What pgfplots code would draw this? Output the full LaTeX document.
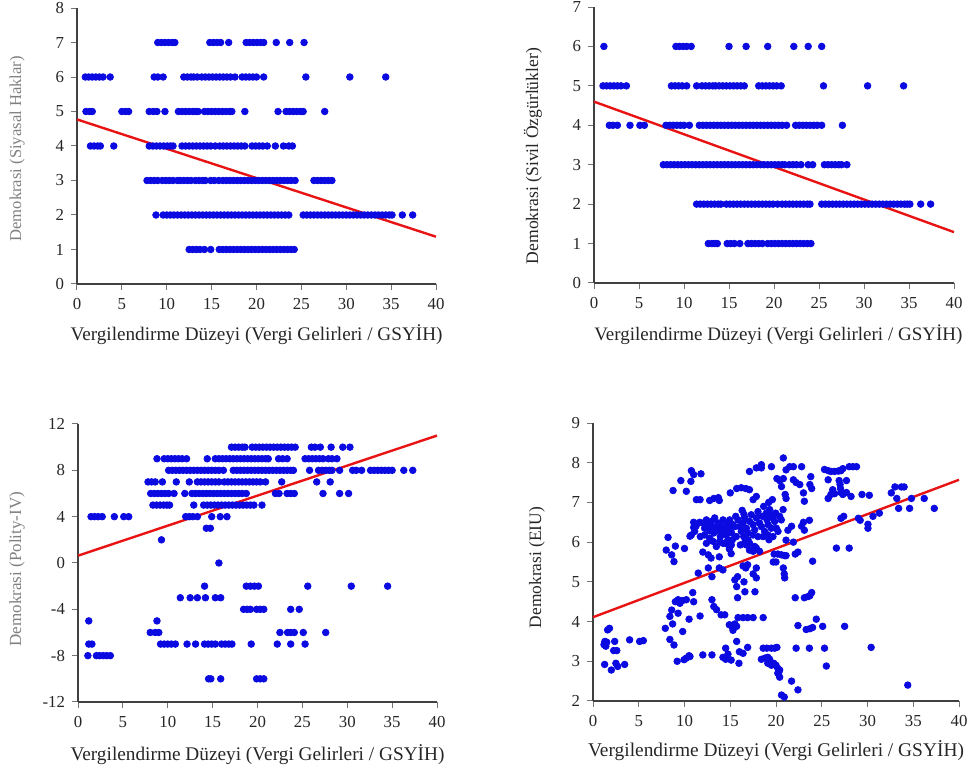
\documentclass[border=0pt]{standalone}
\usepackage{fontspec}
\setmainfont{Liberation Serif}
\usepackage{pgfplots}
\pgfplotsset{compat=1.18}

\definecolor{dotblue}{RGB}{10,10,225}
\definecolor{fitred}{RGB}{232,20,20}

\pgfplotsset{
  panel/.style={
    scale only axis,
    axis lines*=left,
    tick align=outside,
    xmin=0, xmax=40, xtick={0,5,...,40},
    axis line style={black!75, line width=0.9pt},
    major tick style={black!55, line width=0.5pt},
    major tick length=3pt,
    tick label style={font=\fontsize{8.4}{9}\selectfont, text=black!85},
    xticklabel style={yshift=-0.6pt},
    /pgf/number format/assume math mode=true,
    clip=false,
    every axis y label/.style={rotate=90, anchor=center},
    every axis x label/.style={anchor=base, text=black!85},
  },
  dots/.style={only marks, mark=*, mark size=1.65pt, color=dotblue},
  fit/.style={fitred, line width=1.2pt, no marks},
}

\begin{document}
\begin{tikzpicture}
\path[use as bounding box] (0,0) rectangle (487pt,384.5pt);

% --- top left: Siyasal Haklar
\begin{axis}[panel, at={(38.5pt,242.5pt)}, anchor=south west,
  width=179.5pt, height=138pt, ymin=0, ymax=8, ytick={0,...,8},
  ylabel={Demokrasi (Siyasal Haklar)},
  ylabel style={at={(axis description cs:-0.167,0.49)}, font=\fontsize{8.3}{9}\selectfont, text=black!50},
  xlabel={Vergilendirme Düzeyi (Vergi Gelirleri / GSYİH)},
  xlabel style={at={(axis description cs:0.5,-0.203)}, font=\fontsize{9.6}{10}\selectfont}]
\addplot[dots] coordinates {
(9.0,7)(9.4,7)(9.8,7)(10.2,7)(10.6,7)(10.9,7)(14.8,7)(15.2,7)(15.6,7)(16.0,7)(16.9,7)(18.85,7)(19.25,7)(19.65,7)(20.05,7)(20.45,7)(20.8,7)(22.2,7)(23.7,7)(25.3,7)
(0.93,6)(1.3,6)(1.7,6)(2.1,6)(2.5,6)(2.9,6)(3.7,6)(8.6,6)(9.0,6)(9.6,6)(11.9,6)(12.3,6)(12.7,6)(13.0,6)(13.4,6)(13.9,6)(14.3,6)(14.7,6)(15.1,6)(15.5,6)(15.9,6)(16.3,6)(16.7,6)(17.1,6)(17.6,6)(18.4,6)(18.8,6)(19.2,6)(19.6,6)(20.0,6)(20.8,6)(25.5,6)(30.4,6)(34.4,6)
(1.0,5)(1.4,5)(1.7,5)(5.0,5)(5.4,5)(5.75,5)(8.05,5)(8.5,5)(8.9,5)(9.8,5)(11.3,5)(11.7,5)(12.1,5)(12.5,5)(12.9,5)(13.2,5)(13.5,5)(14.2,5)(14.6,5)(15.0,5)(15.4,5)(15.8,5)(16.2,5)(16.6,5)(17.0,5)(17.25,5)(18.7,5)(22.4,5)(23.3,5)(23.7,5)(24.1,5)(24.5,5)(24.9,5)(25.2,5)(27.6,5)
(1.5,4)(1.9,4)(2.3,4)(2.6,4)(4.1,4)(8.05,4)(8.45,4)(8.85,4)(9.25,4)(9.65,4)(10.05,4)(10.4,4)(10.7,4)(11.7,4)(12.1,4)(12.5,4)(12.9,4)(13.3,4)(13.7,4)(14.1,4)(14.5,4)(14.9,4)(15.4,4)(15.9,4)(16.3,4)(16.7,4)(17.1,4)(17.5,4)(17.9,4)(18.3,4)(18.7,4)(19.5,4)(19.9,4)(20.3,4)(20.7,4)(21.2,4)(22.1,4)(23.0,4)(23.6,4)(24.0,4)
(7.8,3)(8.2,3)(8.6,3)(9.0,3)(9.5,3)(9.9,3)(10.3,3)(10.7,3)(11.2,3)(11.5,3)(11.9,3)(12.3,3)(12.7,3)(13.2,3)(13.6,3)(14.0,3)(14.3,3)(14.9,3)(15.3,3)(15.8,3)(16.25,3)(16.65,3)(17.05,3)(17.45,3)(17.85,3)(18.25,3)(18.65,3)(19.05,3)(19.45,3)(19.85,3)(20.25,3)(20.65,3)(21.05,3)(21.45,3)(21.85,3)(22.25,3)(22.65,3)(23.05,3)(23.45,3)(23.85,3)(24.3,3)(26.4,3)(26.8,3)(27.2,3)(27.6,3)(28.0,3)(28.4,3)
(8.8,2)(9.6,2)(10.0,2)(10.4,2)(10.8,2)(11.2,2)(11.6,2)(12.0,2)(12.4,2)(12.8,2)(13.2,2)(13.6,2)(14.0,2)(14.4,2)(14.8,2)(15.2,2)(15.6,2)(16.0,2)(16.4,2)(16.8,2)(17.2,2)(17.6,2)(18.0,2)(18.4,2)(18.8,2)(19.2,2)(19.6,2)(20.0,2)(20.4,2)(20.8,2)(21.2,2)(21.6,2)(22.0,2)(22.4,2)(22.8,2)(23.2,2)(23.6,2)
(25.2,2)(25.6,2)(26.0,2)(26.4,2)(26.8,2)(27.2,2)(27.6,2)(28.0,2)(28.4,2)(28.8,2)(29.2,2)(29.6,2)(30.0,2)(30.4,2)(30.8,2)(31.2,2)(31.6,2)(32.0,2)(32.4,2)(32.8,2)(33.2,2)(33.6,2)(34.0,2)(34.4,2)(34.8,2)(35.1,2)(36.25,2)(37.4,2)
(12.5,1)(12.9,1)(13.3,1)(13.7,1)(14.2,1)(14.9,1)(15.85,1)(16.25,1)(16.65,1)(17.05,1)(17.45,1)(17.85,1)(18.25,1)(18.65,1)(19.05,1)(19.45,1)(19.85,1)(20.25,1)(20.65,1)(21.05,1)(21.45,1)(21.85,1)(22.25,1)(22.65,1)(23.05,1)(23.45,1)(23.85,1)(24.2,1)
};
\addplot[fit] coordinates {(0,4.77) (40,1.37)};
\end{axis}

% --- top right: Sivil Ozgurlukler
\begin{axis}[panel, at={(297pt,243pt)}, anchor=south west,
  width=180pt, height=138pt, ymin=0, ymax=7, ytick={0,...,7},
  ylabel={Demokrasi (Sivil Özgürlükler)},
  ylabel style={at={(axis description cs:-0.17,0.46)}, font=\fontsize{8.8}{10}\selectfont, text=black!85},
  xlabel={Vergilendirme Düzeyi (Vergi Gelirleri / GSYİH)},
  xlabel style={at={(axis description cs:0.512,-0.207)}, font=\fontsize{9.5}{10}\selectfont}]
\addplot[dots] coordinates {
(1.1,6)(9.1,6)(9.5,6)(9.9,6)(10.3,6)(10.8,6)(15.0,6)(16.9,6)(19.3,6)(22.2,6)(23.8,6)(25.3,6)
(1.0,5)(1.4,5)(1.8,5)(2.2,5)(2.6,5)(3.0,5)(3.6,5)(8.6,5)(9.0,5)(9.4,5)(9.8,5)(10.3,5)(11.4,5)(12.0,5)(12.4,5)(12.8,5)(13.2,5)(13.5,5)(13.9,5)(14.3,5)(14.7,5)(15.1,5)(15.5,5)(15.9,5)(16.3,5)(16.7,5)(18.3,5)(18.7,5)(19.1,5)(19.5,5)(19.9,5)(20.3,5)(20.8,5)(25.5,5)(30.4,5)(34.4,5)
(1.7,4)(2.1,4)(2.6,4)(4.0,4)(5.1,4)(5.6,4)(8.0,4)(8.4,4)(8.8,4)(9.2,4)(9.6,4)(10.0,4)(10.6,4)(11.7,4)(12.1,4)(12.5,4)(12.9,4)(13.3,4)(13.7,4)(14.1,4)(14.5,4)(14.9,4)(15.3,4)(15.7,4)(16.1,4)(16.5,4)(16.9,4)(17.3,4)(17.7,4)(18.1,4)(18.5,4)(18.9,4)(19.3,4)(19.7,4)(20.1,4)(20.5,4)(20.9,4)(21.4,4)(22.4,4)(22.8,4)(23.2,4)(23.6,4)(24.0,4)(24.4,4)(24.8,4)(25.3,4)(27.6,4)
(7.7,3)(8.1,3)(8.5,3)(8.9,3)(9.3,3)(9.7,3)(10.1,3)(10.5,3)(10.9,3)(11.3,3)(11.7,3)(12.1,3)(12.5,3)(12.9,3)(13.3,3)(13.7,3)(14.1,3)(14.5,3)(14.9,3)(15.3,3)(15.7,3)(16.1,3)(16.5,3)(16.9,3)(17.3,3)(17.7,3)(18.1,3)(18.5,3)(18.9,3)(19.3,3)(19.7,3)(20.1,3)(20.5,3)(20.9,3)(21.2,3)(21.7,3)(22.1,3)(22.5,3)(23.0,3)(23.8,3)(24.3,3)(25.6,3)(26.0,3)(26.4,3)(26.8,3)(27.2,3)(27.5,3)(28.1,3)
(11.4,2)(11.8,2)(12.2,2)(12.6,2)(13.0,2)(13.4,2)(13.8,2)(14.1,2)(14.7,2)(15.1,2)(15.5,2)(15.9,2)(16.3,2)(16.7,2)(17.1,2)(17.5,2)(17.9,2)(18.3,2)(18.7,2)(19.1,2)(19.5,2)(19.9,2)(20.4,2)(20.9,2)(21.3,2)(21.7,2)(22.1,2)(22.5,2)(22.9,2)(23.3,2)(23.7,2)(24.0,2)
(25.3,2)(25.7,2)(26.1,2)(26.5,2)(26.9,2)(27.3,2)(27.7,2)(28.1,2)(28.5,2)(28.9,2)(29.3,2)(29.7,2)(30.1,2)(30.5,2)(30.9,2)(31.3,2)(31.7,2)(32.1,2)(32.5,2)(32.9,2)(33.3,2)(33.7,2)(34.1,2)(34.5,2)(34.8,2)(35.1,2)(36.3,2)(37.4,2)
(12.7,1)(13.1,1)(13.4,1)(13.7,1)(14.8,1)(15.2,1)(15.6,1)(16.2,1)(17.1,1)(17.5,1)(17.9,1)(18.3,1)(18.7,1)(19.3,1)(19.7,1)(20.1,1)(20.5,1)(20.9,1)(21.3,1)(21.7,1)(22.1,1)(22.5,1)(22.9,1)(23.3,1)(23.7,1)(24.1,1)
};
\addplot[fit] coordinates {(0,4.60) (40,1.29)};
\end{axis}

% --- bottom left: Polity-IV
\begin{axis}[panel, at={(39pt,33.5pt)}, anchor=south west,
  width=179.5pt, height=139pt, ymin=-12, ymax=12, ytick={-12,-8,...,12},
  ylabel={Demokrasi (Polity-IV)},
  ylabel style={at={(axis description cs:-0.17,0.478)}, font=\fontsize{8.5}{9}\selectfont, text=black!50},
  xlabel={Vergilendirme Düzeyi (Vergi Gelirleri / GSYİH)},
  xlabel style={at={(axis description cs:0.5,-0.209)}, font=\fontsize{9.65}{10}\selectfont}]
\addplot[dots] coordinates {
(17.1,10)(17.5,10)(17.9,10)(18.3,10)(18.6,10)(19.4,10)(19.8,10)(20.2,10)(20.6,10)(21.0,10)(21.4,10)(21.8,10)(22.2,10)(22.6,10)(23.0,10)(23.4,10)(23.8,10)(24.2,10)(26.0,10)(26.4,10)(27.0,10)(28.2,10)(29.5,10)(30.3,10)
(8.8,9)(9.6,9)(10.0,9)(10.4,9)(10.8,9)(11.2,9)(11.6,9)(12.1,9)(14.4,9)(15.3,9)(15.7,9)(16.1,9)(16.5,9)(16.9,9)(17.3,9)(17.7,9)(18.1,9)(18.5,9)(18.9,9)(19.3,9)(19.7,9)(20.1,9)(20.5,9)(20.9,9)(21.2,9)(22.35,9)(22.8,9)(23.3,9)(25.3,9)(25.7,9)(26.1,9)(26.5,9)(26.9,9)(27.3,9)(27.9,9)(28.3,9)(28.85,9)
(10.1,8)(10.5,8)(10.9,8)(11.3,8)(11.7,8)(12.1,8)(12.5,8)(12.9,8)(13.3,8)(13.7,8)(14.1,8)(14.5,8)(14.9,8)(15.3,8)(15.7,8)(16.2,8)(17.3,8)(17.7,8)(18.1,8)(18.5,8)(18.9,8)(19.3,8)(19.7,8)(20.1,8)(20.5,8)(20.9,8)(21.3,8)(21.7,8)(22.1,8)(22.5,8)(22.9,8)(23.3,8)(23.7,8)(24.0,8)(25.8,8)(26.8,8)(27.2,8)(27.6,8)(28.0,8)(28.3,8)(29.15,8)(30.6,8)(31.0,8)(31.6,8)(32.6,8)(33.0,8)(33.4,8)(33.8,8)(34.2,8)(34.6,8)(35.0,8)(36.3,8)(37.3,8)
(7.8,7)(8.2,7)(8.6,7)(9.4,7)(10.95,7)(12.4,7)(13.3,7)(13.7,7)(14.1,7)(14.5,7)(14.9,7)(15.3,7)(15.7,7)(16.3,7)(16.7,7)(17.1,7)(17.5,7)(17.9,7)(18.3,7)(18.7,7)(19.1,7)(19.5,7)(19.9,7)(20.3,7)(20.9,7)(22.7,7)(26.6,7)(28.1,7)
(8.1,6)(8.5,6)(8.9,6)(9.3,6)(9.7,6)(10.1,6)(10.7,6)(11.9,6)(12.7,6)(13.1,6)(13.5,6)(13.9,6)(14.3,6)(14.7,6)(15.1,6)(15.5,6)(15.9,6)(16.3,6)(16.7,6)(17.1,6)(17.5,6)(17.9,6)(18.3,6)(18.75,6)(22.0,6)(22.4,6)(23.3,6)(23.7,6)(24.1,6)(27.3,6)(29.15,6)(30.15,6)
(8.35,5)(8.75,5)(9.15,5)(9.55,5)(9.9,5)(10.2,5)(12.9,5)(14.0,5)(14.4,5)(14.8,5)(15.2,5)(15.6,5)(16.0,5)(16.4,5)(16.8,5)(17.2,5)(17.6,5)(18.0,5)(18.4,5)(18.8,5)(19.2,5)(19.6,5)(20.5,5)
(1.45,4)(1.85,4)(2.25,4)(2.7,4)(4.05,4)(5.1,4)(5.65,4)(12.0,4)(12.4,4)(12.8,4)(13.3,4)(14.9,4)(15.85,4)(16.6,4)
(14.3,3)(14.75,3)(9.3,2)(15.7,0)
(14.1,-2)(18.75,-2)(19.2,-2)(19.65,-2)(20.1,-2)(25.6,-2)(30.45,-2)(34.5,-2)
(11.4,-3)(12.5,-3)(13.3,-3)(14.2,-3)(15.3,-3)(15.9,-3)
(18.45,-4)(18.85,-4)(19.2,-4)(19.9,-4)(20.3,-4)(20.7,-4)(23.7,-4)(24.65,-4)
(1.2,-5)(8.8,-5)
(8.05,-6)(8.6,-6)(9.0,-6)(22.5,-6)(23.35,-6)(23.7,-6)(24.1,-6)(25.1,-6)(27.6,-6)
(1.2,-7)(1.55,-7)(9.2,-7)(9.6,-7)(10.0,-7)(10.4,-7)(10.85,-7)(12.15,-7)(13.1,-7)(14.1,-7)(14.5,-7)(14.9,-7)(15.3,-7)(16.0,-7)(16.4,-7)(16.8,-7)(17.15,-7)(19.3,-7)(22.2,-7)(23.7,-7)(25.3,-7)
(1.1,-8)(2.05,-8)(2.4,-8)(2.8,-8)(3.2,-8)(3.6,-8)
(14.55,-10)(14.8,-10)(15.9,-10)(19.9,-10)(20.3,-10)(20.7,-10)
};
\addplot[fit] coordinates {(0,0.63) (40,11.0)};
\end{axis}

% --- bottom right: EIU
\begin{axis}[panel, at={(296.5pt,34pt)}, anchor=south west,
  width=183pt, height=139pt, ymin=2, ymax=9, ytick={2,...,9},
  ylabel={Demokrasi (EIU)},
  ylabel style={at={(axis description cs:-0.153,0.48)}, font=\fontsize{8.7}{10}\selectfont, text=black!85},
  xlabel={Vergilendirme Düzeyi (Vergi Gelirleri / GSYİH)},
  xlabel style={at={(axis description cs:0.5,-0.198)}, font=\fontsize{9.7}{10}\selectfont}]
\addplot[dots] coordinates {
(1.27,2.92)(1.2,3.42)(1.3,3.50)(1.4,3.38)(1.5,3.48)(1.35,3.45)(1.6,3.79)(1.8,3.83)(2.0,2.78)(2.37,3.50)(2.26,3.27)(2.6,3.27)(2.5,2.95)(2.7,2.87)(3.46,2.92)(4.0,3.54)(5.1,3.50)(5.5,3.52)
(7.9,3.83)(8.4,4.13)(8.6,4.29)(8.4,3.55)(8.85,3.41)(8.7,3.94)(9.2,3.00)(9.0,4.50)(9.3,4.55)(9.5,4.46)(9.8,4.53)(9.3,4.21)(9.8,3.75)(9.95,3.04)(10.2,3.08)(10.5,3.14)(10.6,3.12)(10.2,4.55)(10.5,4.06)(10.9,4.73)(11.0,4.50)
(8.2,6.12)(8.0,5.80)(8.6,5.68)(8.85,5.51)(9.0,5.90)(10.0,5.84)(8.75,7.30)(9.6,7.55)(10.2,7.28)(10.7,7.53)(10.75,7.80)(11.0,7.70)(11.8,7.72)(10.6,6.15)(11.0,6.37)(11.0,6.50)(11.25,6.40)(11.3,7.07)(11.7,7.07)(11.5,5.22)(11.7,4.14)
(12.75,7.05)(13.2,7.10)(13.7,7.12)(13.8,7.05)(12.0,5.75)(12.6,5.68)(12.9,5.60)(12.6,5.35)(13.0,5.13)(12.0,3.16)(13.0,3.16)(13.0,4.55)(13.2,4.38)(13.5,4.30)(14.0,4.17)(14.4,4.17)(13.8,5.35)(14.2,5.30)(13.8,5.63)
(14.2,3.10)(14.5,3.05)(14.75,3.18)(15.1,3.03)(14.5,3.33)(14.9,3.92)(15.2,3.87)(15.5,3.94)(15.7,3.88)(15.3,3.78)(14.6,5.96)(14.9,5.83)(15.1,5.71)(15.0,7.24)(15.7,7.35)(16.2,7.37)(16.7,7.35)(17.1,7.32)(15.6,6.65)
(15.8,4.60)(15.5,5.05)(15.8,5.13)(15.7,4.88)(15.85,4.10)(16.4,4.10)(16.9,4.10)(17.5,4.10)(15.95,2.95)(15.7,3.50)(16.0,3.24)(16.4,3.20)(16.9,3.35)(16.3,6.80)(16.5,6.70)(16.4,5.40)(16.7,5.35)(16.9,5.43)(16.5,5.00)(16.6,4.75)
(17.1,7.78)(17.5,7.07)(17.85,7.15)(17.7,4.75)(17.1,5.80)(17.5,5.77)(17.85,5.85)(18.2,5.77)(16.75,5.93)(17.5,5.20)(17.85,5.10)(17.85,5.35)(17.85,7.87)(18.4,7.95)(18.4,7.87)(18.6,4.10)
(18.4,3.05)(18.8,3.08)(19.1,3.10)(19.3,3.05)(18.6,3.33)(19.0,3.33)(19.5,3.33)(19.85,3.33)(20.1,3.35)(19.1,2.95)(19.5,2.90)(19.75,2.95)(20.0,2.90)(20.2,2.82)(20.3,2.72)(20.4,2.78)
(19.5,7.90)(19.2,7.00)(19.6,7.07)(19.7,5.50)(20.0,5.50)(20.1,7.60)(20.4,7.55)(20.8,7.60)(20.6,7.40)(19.8,5.70)(20.2,5.70)(20.6,5.68)(20.95,5.66)(21.1,5.66)(20.8,5.35)(20.9,5.20)(20.95,5.10)
(20.8,8.12)(21.0,7.20)(21.1,7.10)(21.1,7.82)(21.5,7.90)(21.9,7.90)(21.3,6.30)(21.7,6.40)(21.1,6.05)(21.7,2.50)(20.6,2.15)(20.9,2.10)(20.2,2.70)(20.4,2.60)
(21.9,7.57)(22.2,7.50)(21.9,6.00)(22.1,5.70)(22.4,5.75)(22.1,4.60)(22.2,3.33)(22.4,2.28)(22.4,3.90)(22.8,7.90)(22.6,7.45)(23.0,7.24)(23.1,7.03)(22.8,6.40)(23.1,6.30)(23.0,6.50)
(23.1,4.60)(23.5,4.63)(23.3,3.80)(23.7,3.82)(24.0,3.85)(23.65,3.33)(23.65,6.55)(23.8,7.65)(23.7,7.45)(23.9,7.35)(23.7,4.65)(23.9,4.73)(24.0,5.52)(24.4,4.06)
(25.1,3.88)(25.3,3.33)(25.5,2.88)(25.3,7.83)(25.7,7.80)(26.0,7.78)(26.4,7.78)(26.8,7.79)(26.95,7.80)(25.7,7.57)(25.7,7.10)(26.0,7.20)(26.4,7.22)(26.2,7.32)(26.6,5.85)
(26.9,7.55)(27.0,7.45)(27.05,7.35)(27.1,7.25)(27.3,7.20)(27.7,7.25)(27.1,7.80)(27.3,7.85)(27.1,6.60)(27.4,6.65)(27.7,7.55)(27.5,3.88)(28.0,5.85)(28.2,7.15)(28.0,7.90)(28.4,7.90)(28.8,7.90)
(29.0,6.60)(29.2,6.55)(29.4,7.20)(30.05,6.35)(30.05,6.45)(30.2,7.18)(30.6,6.65)(30.4,3.35)(31.3,6.73)(32.6,7.24)(33.0,7.39)(33.2,7.10)(33.4,6.85)(33.7,7.39)(34.0,7.39)(34.6,6.85)(34.4,2.40)(34.8,7.10)(36.2,7.10)(37.3,6.85)
(11.29,6.44)(11.66,6.50)(12.02,6.48)(12.20,6.35)(12.39,6.56)(12.57,6.41)(12.75,6.29)(12.93,6.52)(13.04,6.39)(13.19,6.23)(13.30,6.61)(13.48,6.35)(13.66,6.48)(13.84,6.27)(13.92,6.14)(14.13,6.39)(14.21,6.56)(14.39,6.27)(14.57,6.18)(14.64,6.44)
(14.86,6.35)(14.94,6.56)(15.12,6.24)(15.23,6.06)(15.30,6.44)(15.48,6.39)(15.66,6.14)(11.73,6.14)(12.20,6.18)(12.39,5.97)(12.75,6.10)(13.11,6.02)(13.48,5.89)(13.84,6.02)(14.21,5.97)(14.75,6.06)(15.12,5.93)(10.75,6.18)(11.11,6.27)
(15.85,6.56)(16.03,6.39)(16.21,6.27)(16.39,6.48)(16.58,6.61)(16.76,6.35)(16.94,6.23)(17.12,6.52)(17.30,6.69)(17.49,6.44)(17.67,6.31)(17.85,6.61)(18.03,6.77)(18.21,6.48)(18.40,6.39)(18.51,6.65)(18.65,6.90)(18.76,6.27)(18.94,6.73)(19.02,6.56)
(19.13,6.44)(19.31,6.82)(19.38,6.69)(19.49,6.35)(19.67,6.61)(19.85,6.52)(19.96,6.73)(20.04,6.35)(20.22,6.27)(20.40,6.65)(20.58,6.56)(20.77,6.82)(16.47,6.14)(16.94,6.06)(17.49,6.18)(18.03,6.14)(18.58,6.14)(19.13,6.18)(19.67,6.14)(19.23,6.06)
(16.10,5.93)(16.58,5.99)(17.12,5.97)(17.67,5.89)
};
\addplot[fit] coordinates {(0,4.11) (40,7.57)};
\end{axis}
\end{tikzpicture}
\end{document}
